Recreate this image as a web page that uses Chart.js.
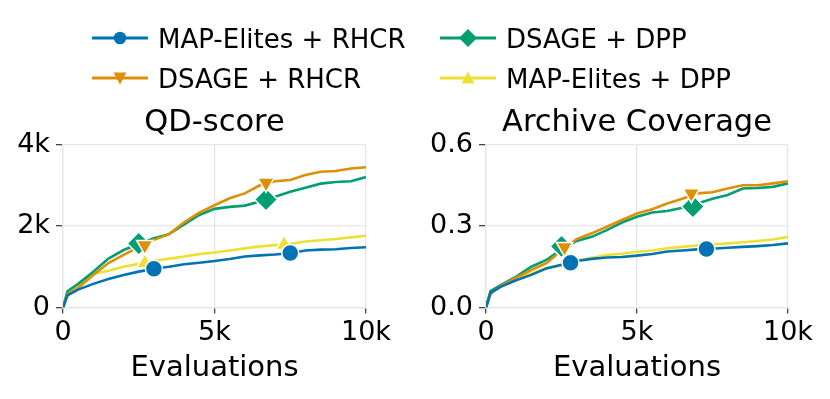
<!DOCTYPE html>
<html>
<head>
<meta charset="utf-8">
<script src="https://cdn.jsdelivr.net/npm/chart.js@4/dist/chart.umd.min.js"></script>
<style>
  html, body { margin: 0; padding: 0; background: #fff; }
  #wrap { position: relative; width: 830px; height: 399px; overflow: hidden; font-family: "DejaVu Sans", sans-serif; }
  canvas { position: absolute; top: 0; }
  .item { position: absolute; height: 30px; line-height: 30px; font-size: 26px; color: #000; white-space: nowrap; }
  .item svg { position: absolute; left: 0; top: 0; }
  .item span { position: absolute; top: 0; }
</style>
</head>
<body>
<div id="wrap">
  <canvas id="qd" width="415" height="399" style="left:0"></canvas>
  <canvas id="cov" width="415" height="399" style="left:415px"></canvas>
  <div id="legend"></div>
</div>
<script>
// evaluations (x axis)
const evals = [0, 150, 500, 1000, 1500, 2000, 2500, 3000, 3500, 4000, 4500, 5000,
               5500, 6000, 6500, 7000, 7500, 8000, 8500, 9000, 9500, 10000];

// QD-score
const qdMapRhcr  = [0, 300, 440, 580, 700, 800, 880, 950, 1000, 1060, 1100, 1140, 1190, 1250, 1280, 1300, 1330, 1400, 1420, 1430, 1460, 1480];
const qdDsageRhcr = [0, 330, 480, 800, 1090, 1290, 1480, 1660, 1800, 2090, 2330, 2510, 2680, 2800, 3000, 3100, 3130, 3250, 3330, 3350, 3410, 3440];
const qdDsageDpp = [0, 400, 580, 880, 1200, 1410, 1560, 1700, 1800, 2040, 2270, 2420, 2470, 2500, 2600, 2720, 2840, 2940, 3040, 3080, 3100, 3200];
const qdMapDpp   = [0, 400, 560, 820, 900, 1000, 1070, 1140, 1200, 1250, 1310, 1350, 1400, 1450, 1500, 1530, 1560, 1620, 1650, 1680, 1720, 1760];

// Archive Coverage
const covMapRhcr  = [0, 0.055, 0.077, 0.100, 0.120, 0.144, 0.157, 0.171, 0.179, 0.184, 0.186, 0.191, 0.197, 0.206, 0.210, 0.214, 0.216, 0.220, 0.223, 0.226, 0.230, 0.236];
const covDsageRhcr = [0, 0.050, 0.080, 0.110, 0.138, 0.163, 0.210, 0.252, 0.273, 0.297, 0.322, 0.346, 0.362, 0.383, 0.400, 0.420, 0.424, 0.438, 0.450, 0.450, 0.457, 0.465];
const covDsageDpp = [0, 0.060, 0.083, 0.114, 0.150, 0.175, 0.215, 0.245, 0.260, 0.285, 0.313, 0.334, 0.350, 0.355, 0.367, 0.383, 0.400, 0.414, 0.438, 0.440, 0.444, 0.457];
const covMapDpp   = [0, 0.060, 0.080, 0.108, 0.125, 0.145, 0.155, 0.172, 0.183, 0.193, 0.198, 0.205, 0.210, 0.218, 0.223, 0.228, 0.232, 0.236, 0.240, 0.245, 0.250, 0.260];

// marker positions [evaluations, value]
const qdMarkMapRhcr   = [[3000, 950], [7500, 1340]];
const qdMarkDsageRhcr = [[2700, 1530], [6700, 3060]];
const qdMarkDsageDpp  = [[2500, 1570], [6700, 2650]];
const qdMarkMapDpp    = [[2700, 1090], [7300, 1540]];
const covMarkMapRhcr   = [[2800, 0.165], [7300, 0.215]];
const covMarkDsageRhcr = [[2600, 0.222], [6800, 0.420]];
const covMarkDsageDpp  = [[2500, 0.225], [6850, 0.372]];
const covMarkMapDpp    = [[2800, 0.160], [7300, 0.217]];

const xTicks = [0, 5000, 10000];
const qdTicks = [0, 2000, 4000];
const covTicks = [0, 0.3, 0.6];

const names = ["MAP-Elites + RHCR", "DSAGE + RHCR", "DSAGE + DPP", "MAP-Elites + DPP"];
const colors = ["#0173b2", "#de8f05", "#029e73", "#ece133"];
const shapes = ["circle", "triangle", "rectRot", "triangle"];
const rotations = [0, 180, 0, 0];
const radii = [8.5, 9.5, 11.5, 9.5];

const kFmt = v => v === 0 ? "0" : (v / 1000) + "k";
const font = "DejaVu Sans";

function makeChart(id, title, series, marks, yTicks, yMax, yFmt, yWidth, padRight) {
  const datasets = [];
  marks.forEach((m, i) => datasets.push({
    data: m.map(p => ({ x: p[0], y: p[1] })),
    showLine: false,
    pointStyle: shapes[i],
    rotation: rotations[i],
    pointRadius: radii[i],
    backgroundColor: colors[i],
    borderColor: "#fff",
    pointBorderWidth: 1.5
  }));
  series.forEach((s, i) => datasets.push({
    data: evals.map((x, j) => ({ x: x, y: s[j] })),
    borderColor: colors[i],
    borderWidth: 2.6,
    pointRadius: 0,
    tension: 0
  }));
  return new Chart(document.getElementById(id), {
    type: "line",
    data: { datasets: datasets },
    options: {
      responsive: false,
      animation: false,
      layout: { padding: { top: 105, right: padRight, bottom: 0, left: 0 } },
      plugins: {
        legend: { display: false },
        tooltip: { enabled: false },
        title: {
          display: true, text: title, color: "#000", fullSize: false,
          font: { family: font, size: 30.5, weight: "normal", lineHeight: 1.2 },
          padding: { top: 0, bottom: 2.9 }
        }
      },
      scales: {
        x: {
          type: "linear", min: 0, max: 10000,
          afterBuildTicks: a => { a.ticks = xTicks.map(v => ({ value: v })); },
          afterFit: a => { a.height = 91.5; },
          ticks: { color: "#000", font: { family: font, size: 27 }, padding: 3, maxRotation: 0, callback: kFmt },
          grid: { color: "#e6e6e6", lineWidth: 1.3, tickColor: "#444", tickLength: 6, tickWidth: 1.3 },
          border: { color: "#e6e6e6", width: 1.3 },
          title: { display: true, text: "Evaluations", color: "#000",
                   font: { family: font, size: 29, lineHeight: 1.2 }, padding: { top: 0, bottom: 13.6 } }
        },
        y: {
          min: 0, max: yMax,
          afterBuildTicks: a => { a.ticks = yTicks.map(v => ({ value: v })); },
          afterFit: a => { a.width = yWidth; },
          ticks: { color: "#000", font: { family: font, size: 27 }, padding: 6, callback: yFmt },
          grid: { color: "#e6e6e6", lineWidth: 1.3, tickColor: "#444", tickLength: 7, tickWidth: 1.3 },
          border: { color: "#e6e6e6", width: 1.3 }
        }
      }
    }
  });
}

makeChart("qd", "QD-score",
  [qdMapRhcr, qdDsageRhcr, qdDsageDpp, qdMapDpp],
  [qdMarkMapRhcr, qdMarkDsageRhcr, qdMarkDsageDpp, qdMarkMapDpp],
  qdTicks, 4000, kFmt, 63, 49);

makeChart("cov", "Archive Coverage",
  [covMapRhcr, covDsageRhcr, covDsageDpp, covMapDpp],
  [covMarkMapRhcr, covMarkDsageRhcr, covMarkDsageDpp, covMarkMapDpp],
  covTicks, 0.6, v => Number(v).toFixed(1), 71, 42);

// legend (two columns, filled column by column)
const legendPos = [[92, 24], [92, 64], [440, 24], [440, 64]];
function markerSvg(i) {
  const c = colors[i];
  let m;
  if (shapes[i] === "circle") m = `<circle cx="28" cy="14" r="6.3" fill="${c}"/>`;
  else if (shapes[i] === "rectRot") m = `<polygon points="28,5 37,14 28,23 19,14" fill="${c}"/>`;
  else if (rotations[i] === 180) m = `<polygon points="21.5,8.5 34.5,8.5 28,20.5" fill="${c}"/>`;
  else m = `<polygon points="21.5,19.5 34.5,19.5 28,7.5" fill="${c}"/>`;
  return `<svg width="57" height="30"><line x1="0" y1="14" x2="56" y2="14" stroke="${c}" stroke-width="3"/>${m}</svg>`;
}
const leg = document.getElementById("legend");
names.forEach((n, i) => {
  const d = document.createElement("div");
  d.className = "item";
  d.style.left = legendPos[i][0] + "px";
  d.style.top = legendPos[i][1] + "px";
  d.innerHTML = markerSvg(i) + `<span style="left:66px">${n}</span>`;
  leg.appendChild(d);
});
</script>
</body>
</html>
